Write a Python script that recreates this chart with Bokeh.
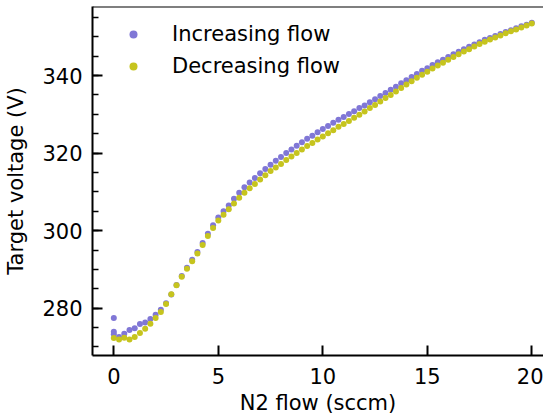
from bokeh.plotting import figure
from bokeh.models import SingleIntervalTicker, Range1d, Span
from bokeh.embed import file_html
from bokeh.resources import INLINE

# N2 flow (sccm) and target voltage (V)
flow_inc = [0, 0, 0, 0.25, 0.5, 0.75, 1.0, 1.25, 1.5, 1.75, 2.0, 2.25, 2.5, 2.75, 3.0, 3.25, 3.5, 3.75,
            4.0, 4.25, 4.5, 4.75, 5.0, 5.25, 5.5, 5.75, 6.0, 6.25, 6.5, 6.75, 7.0, 7.25, 7.5, 7.75,
            8.0, 8.25, 8.5, 8.75, 9.0, 9.25, 9.5, 9.75, 10.0, 10.25, 10.5, 10.75, 11.0, 11.25, 11.5, 11.75,
            12.0, 12.25, 12.5, 12.75, 13.0, 13.25, 13.5, 13.75, 14.0, 14.25, 14.5, 14.75, 15.0, 15.25, 15.5, 15.75,
            16.0, 16.25, 16.5, 16.75, 17.0, 17.25, 17.5, 17.75, 18.0, 18.25, 18.5, 18.75, 19.0, 19.25, 19.5, 19.75, 20.0]
volt_inc = [277.5, 273.9, 273.3, 272.6, 273.4, 274.4, 274.8, 275.9, 276.3, 277.2, 278.3, 279.6, 281.3, 283.5, 286.0, 288.3, 290.4, 292.5,
            294.5, 296.8, 299.2, 301.4, 303.4, 305.0, 306.5, 308.2, 309.8, 311.2, 312.4, 313.6, 314.8, 315.9, 317.0, 318.0,
            319.0, 320.0, 320.9, 321.9, 322.8, 323.7, 324.5, 325.4, 326.2, 327.0, 327.8, 328.6, 329.3, 330.1, 330.8, 331.6,
            332.3, 333.1, 333.9, 334.7, 335.5, 336.3, 337.1, 338.0, 338.8, 339.6, 340.4, 341.2, 341.9, 342.7, 343.4, 344.1,
            344.8, 345.5, 346.1, 346.8, 347.4, 348.0, 348.6, 349.2, 349.7, 350.2, 350.7, 351.2, 351.7, 352.2, 352.7, 353.1, 353.6]

flow_dec = [0.0, 0.25, 0.5, 0.75, 1.0, 1.25, 1.5, 1.75, 2.0, 2.25, 2.5, 2.75, 3.0, 3.25, 3.5, 3.75,
            4.0, 4.25, 4.5, 4.75, 5.0, 5.25, 5.5, 5.75, 6.0, 6.25, 6.5, 6.75, 7.0, 7.25, 7.5, 7.75,
            8.0, 8.25, 8.5, 8.75, 9.0, 9.25, 9.5, 9.75, 10.0, 10.25, 10.5, 10.75, 11.0, 11.25, 11.5, 11.75,
            12.0, 12.25, 12.5, 12.75, 13.0, 13.25, 13.5, 13.75, 14.0, 14.25, 14.5, 14.75, 15.0, 15.25, 15.5, 15.75,
            16.0, 16.25, 16.5, 16.75, 17.0, 17.25, 17.5, 17.75, 18.0, 18.25, 18.5, 18.75, 19.0, 19.25, 19.5, 19.75, 20.0]
volt_dec = [272.3, 271.9, 272.4, 271.9, 272.6, 273.6, 274.7, 276.0, 277.5, 279.0, 281.1, 283.6, 285.9, 288.1, 290.2, 292.1,
            294.1, 296.3, 298.6, 300.7, 302.6, 304.1, 305.5, 307.0, 308.5, 309.8, 310.9, 312.0, 313.2, 314.3, 315.4, 316.3,
            317.2, 318.2, 319.1, 320.0, 320.9, 321.8, 322.6, 323.5, 324.3, 325.1, 325.9, 326.8, 327.5, 328.3, 329.1, 329.9,
            330.7, 331.6, 332.4, 333.3, 334.2, 335.0, 335.9, 336.8, 337.7, 338.5, 339.4, 340.2, 341.0, 341.8, 342.6, 343.3,
            344.1, 344.8, 345.5, 346.2, 346.8, 347.5, 348.1, 348.7, 349.3, 349.8, 350.3, 350.9, 351.4, 351.9, 352.4, 352.9, 353.4]

series_names = ["Increasing flow", "Decreasing flow"]
series_colors = ["#8077d6", "#c6c41e"]

FONT = "DejaVu Sans"
Y_TOP = 357.8

p = figure(width=543, height=417, output_backend="svg", toolbar_location=None,
           x_range=Range1d(-1.02, 20.56), y_range=Range1d(267.8, Y_TOP),
           min_border_left=92, min_border_right=0, min_border_top=6, min_border_bottom=61,
           background_fill_color="white", border_fill_color="white")
p.outline_line_color = None
p.grid.visible = False

p.scatter(flow_inc, volt_inc, size=6, color=series_colors[0], line_color=None,
          legend_label=series_names[0])
p.scatter(flow_dec, volt_dec, size=6, color=series_colors[1], line_color=None,
          legend_label=series_names[1])

for ax in (p.xaxis[0], p.yaxis[0]):
    ax.axis_line_width = 2
    ax.axis_line_color = "black"
    ax.major_tick_line_width = 2
    ax.major_tick_line_color = "black"
    ax.major_tick_in = 10
    ax.major_tick_out = 0
    ax.minor_tick_in = 6
    ax.minor_tick_out = 0
    ax.minor_tick_line_width = 1.5
    ax.minor_tick_line_color = "black"
    ax.major_label_text_font = FONT
    ax.major_label_text_font_size = "21px"
    ax.major_label_text_color = "black"
    ax.axis_label_text_font = FONT
    ax.axis_label_text_font_size = "21px"
    ax.axis_label_text_font_style = "normal"
    ax.axis_label_text_color = "black"

p.xaxis[0].ticker = SingleIntervalTicker(interval=5, num_minor_ticks=0)
p.xaxis[0].minor_tick_line_color = None
p.xaxis[0].major_label_standoff = 12
p.xaxis[0].axis_label = "N2 flow (sccm)"
p.xaxis[0].axis_label_standoff = 4

p.yaxis[0].ticker = SingleIntervalTicker(interval=20, num_minor_ticks=4)
p.yaxis[0].major_label_standoff = 10
p.yaxis[0].axis_label = "Target voltage (V)"
p.yaxis[0].axis_label_standoff = 11

p.add_layout(Span(location=Y_TOP, dimension="width", line_color="black", line_width=2))

lg = p.legend[0]
lg.location = "top_left"
lg.margin = 16
lg.padding = 0
lg.border_line_color = None
lg.background_fill_alpha = 0
lg.glyph_width = 50
lg.glyph_height = 20
lg.label_standoff = 14
lg.label_text_font = FONT
lg.label_text_font_size = "21px"
lg.label_text_color = "black"
lg.label_height = 20
lg.spacing = 8

open("out.html", "w").write(file_html(p, INLINE))
